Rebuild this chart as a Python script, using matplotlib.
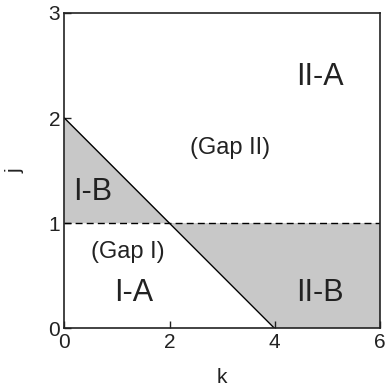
import matplotlib.pyplot as plt
import numpy as np

plt.rcParams['font.family'] = ['Liberation Sans', 'DejaVu Sans']

# boundary line j = 2 - k/2 and the dashed j = 1 level
line_k = [0, 4]
line_j = [2, 0]
dash_j = 1

# shaded regions (I-B triangle and II-B area)
ib_k = [0, 0, 2]
ib_j = [1, 2, 1]
iib_k = [2, 6, 6, 4]
iib_j = [1, 1, 0, 0]

labels = ['II-A', '(Gap II)', 'I-B', '(Gap I)', 'I-A', 'II-B']
label_k = [4.86, 3.15, 0.54, 1.20, 1.32, 4.86]
label_j = [2.39, 1.72, 1.30, 0.73, 0.34, 0.34]
label_size = [22, 17, 22, 17, 22, 22]

fig = plt.figure(figsize=(3.86, 3.92), dpi=100)
ax = fig.add_axes([0.167, 0.162, 0.817, 0.805])

ax.fill(ib_k, ib_j, color='#c8c8c8', lw=0)
ax.fill(iib_k, iib_j, color='#c8c8c8', lw=0)
ax.plot(line_k, line_j, color='black', lw=1.0)
ax.axhline(dash_j, color='black', lw=1.0, ls=(0, (5, 3)))

for txt, x, y, s in zip(labels, label_k, label_j, label_size):
    ax.text(x, y, txt, ha='center', va='center', fontsize=s, color='#222222')

ax.set_xlim(0, 6)
ax.set_ylim(0, 3)
ax.set_xticks([0, 2, 4, 6])
ax.set_yticks([0, 1, 2, 3])
ax.tick_params(direction='in', length=5, width=1, labelsize=15, colors='#222222')
ax.tick_params(axis='x', pad=3)
ax.tick_params(axis='y', pad=3)
for sp in ax.spines.values():
    sp.set_linewidth(1.2)
    sp.set_color('#222222')

ax.set_xlabel('k', fontsize=15, labelpad=12, color='#222222')
ax.set_ylabel('j', fontsize=15, labelpad=17, color='#222222')

fig.savefig('out.png', dpi=100)
